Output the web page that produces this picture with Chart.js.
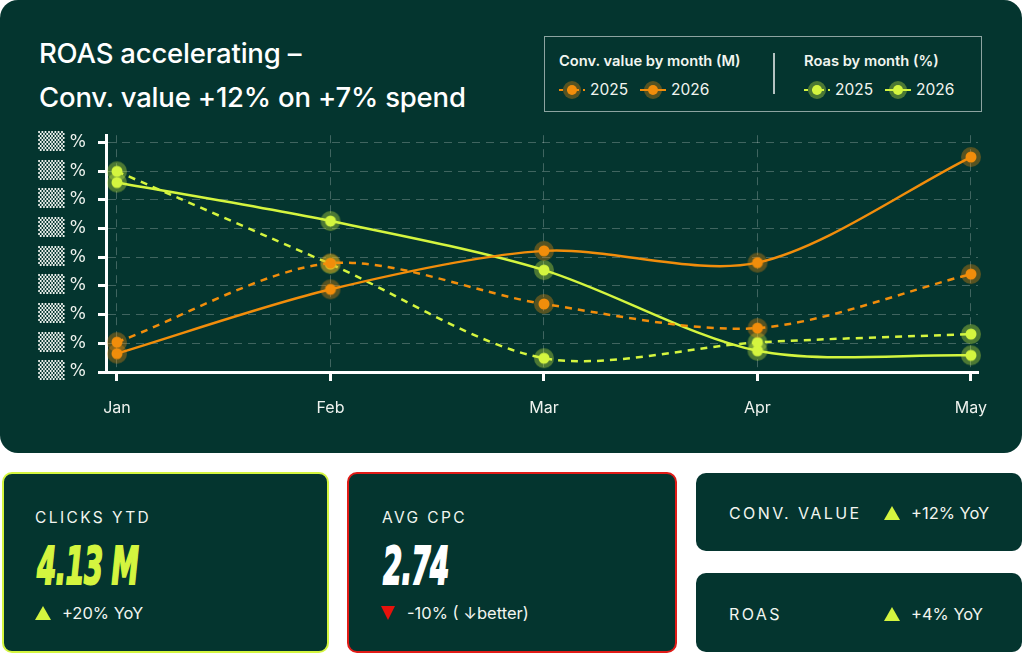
<!DOCTYPE html>
<html>
<head>
<meta charset="utf-8">
<script src="https://cdn.jsdelivr.net/npm/chart.js@4"></script>
<style>
  body { margin: 0; width: 1024px; height: 654px; background: #ffffff; position: relative; overflow: hidden; font-family: Inter, "Open Sans", sans-serif; color: #f2f5f0; }
  .panel { position: absolute; left: 0; top: 0; width: 1022px; height: 453px; background: #04352f; border-radius: 18px; }
  .title { position: absolute; left: 39px; font-size: 27.5px; font-weight: 500; color: #ffffff; white-space: nowrap; letter-spacing: -0.2px; }
  .chartbox { position: absolute; left: 0; top: 113px; width: 1022px; height: 327px; }
  .legend { position: absolute; left: 544px; top: 36px; width: 436px; height: 74px; border: 1px solid rgba(255,255,255,0.55); }
  .lg-group { position: absolute; top: 0; }
  .lg-head { position: absolute; top: 15px; font-size: 14.7px; font-weight: 600; white-space: nowrap; color: #f2f5f0; }
  .lg-item { position: absolute; top: 42px; height: 22px; white-space: nowrap; font-size: 15.5px; line-height: 22px; }
  .sym { position: absolute; top: 10px; left: 0; width: 26px; height: 2px; }
  .sym.dash { background: repeating-linear-gradient(90deg, var(--c) 0 4px, transparent 4px 8px); }
  .sym.solid { background: var(--c); }
  .dot { position: absolute; left: 8px; top: -4px; width: 10px; height: 10px; border-radius: 50%; background: var(--c); box-shadow: 0 0 0 4px var(--h); }
  .lg-text { position: absolute; left: 31px; top: 0; }
  .divider { position: absolute; left: 228px; top: 16px; width: 2px; height: 41px; background: rgba(255,255,255,0.7); }
  .card { position: absolute; background: #04352f; border-radius: 10px; box-sizing: border-box; }
  .klabel { position: absolute; font-size: 15.5px; letter-spacing: 2.4px; white-space: nowrap; color: #f2f5f0; }
  .kvalue { position: absolute; font-family: "Liberation Sans Narrow", "DejaVu Sans Condensed", sans-serif; font-weight: 700; font-style: italic; font-size: 51px; line-height: 51px; white-space: nowrap; transform: scaleX(0.6); transform-origin: left top; letter-spacing: -1px; -webkit-text-stroke: 2px currentColor; }
  .kchange { position: absolute; font-size: 16.5px; white-space: nowrap; color: #f2f5f0; }
  .tri-up { position: absolute; width: 0; height: 0; border-left: 8px solid transparent; border-right: 8px solid transparent; border-bottom: 14px solid #d4f53f; }
  .tri-down { position: absolute; width: 0; height: 0; border-left: 7px solid transparent; border-right: 7px solid transparent; border-top: 14px solid #e8120c; }
</style>
</head>
<body>
<div class="panel">
  <div class="title" style="top: 36px;">ROAS accelerating –</div>
  <div class="title" style="top: 80px;">Conv. value +12% on +7% spend</div>
  <div class="legend">
    <div class="lg-group" style="left: 14px;">
      <div class="lg-head">Conv. value by month (M)</div>
      <div class="lg-item" style="left: 0;"><div class="sym dash" style="--c:#f18d0b;"><div class="dot" style="--c:#f18d0b; --h:rgba(241,141,11,0.35);"></div></div><span class="lg-text">2025</span></div>
      <div class="lg-item" style="left: 81px;"><div class="sym solid" style="--c:#f18d0b;"><div class="dot" style="--c:#f18d0b; --h:rgba(241,141,11,0.35);"></div></div><span class="lg-text">2026</span></div>
    </div>
    <div class="divider"></div>
    <div class="lg-group" style="left: 259px;">
      <div class="lg-head">Roas by month (%)</div>
      <div class="lg-item" style="left: 0;"><div class="sym dash" style="--c:#d4f53f;"><div class="dot" style="--c:#d4f53f; --h:rgba(212,245,63,0.35);"></div></div><span class="lg-text">2025</span></div>
      <div class="lg-item" style="left: 81px;"><div class="sym solid" style="--c:#d4f53f;"><div class="dot" style="--c:#d4f53f; --h:rgba(212,245,63,0.35);"></div></div><span class="lg-text">2026</span></div>
    </div>
  </div>
  <div class="chartbox"><canvas id="trendChart"></canvas></div>
</div>

<div class="card" style="left: 2px; top: 472px; width: 327px; height: 181px; border: 2px solid #d4f53f;">
  <div class="klabel" style="left: 31px; top: 34px;">CLICKS YTD</div>
  <div class="kvalue" style="left: 33px; top: 67px; color: #d4f53f;">4.13 M</div>
  <div class="tri-up" style="left: 31px; top: 132px;"></div>
  <div class="kchange" style="left: 58px; top: 129px;">+20% YoY</div>
</div>
<div class="card" style="left: 347px; top: 472px; width: 330px; height: 181px; border: 2px solid #e11b17;">
  <div class="klabel" style="left: 33px; top: 34px;">AVG CPC</div>
  <div class="kvalue" style="left: 34px; top: 67px; color: #ffffff;">2.74</div>
  <div class="tri-down" style="left: 32px; top: 132px;"></div>
  <div class="kchange" style="left: 58px; top: 129px;">-10% ( ↓better)</div>
</div>
<div class="card" style="left: 696px; top: 473px; width: 326px; height: 78px;">
  <div class="klabel" style="left: 33px; top: 30px; font-size: 16px; letter-spacing: 2.4px;">CONV. VALUE</div>
  <div class="tri-up" style="left: 188px; top: 33px;"></div>
  <div class="kchange" style="left: 215px; top: 30px;">+12% YoY</div>
</div>
<div class="card" style="left: 696px; top: 573px; width: 326px; height: 79px;">
  <div class="klabel" style="left: 33px; top: 31px; font-size: 16px; letter-spacing: 2.4px;">ROAS</div>
  <div class="tri-up" style="left: 188px; top: 34px;"></div>
  <div class="kchange" style="left: 215px; top: 31px;">+4% YoY</div>
</div>

<script>
// values, y axis labels are masked in the source
const months = ['Jan', 'Feb', 'Mar', 'Apr', 'May'];
const convValue2025 = [10.4, 37.9, 23.7, 15.3, 34.1];
const convValue2026 = [6.4, 28.8, 42.2, 38.1, 74.9];
const roas2025 = [69.9, 37.6, 4.8, 10.3, 13.2];
const roas2026 = [66.0, 52.6, 35.5, 7.4, 5.8];
const yTickLabel = '▒▒ %';

const ORANGE = '#f18d0b';
const LIME = '#d4f53f';

function makeDot(color, halo) {
  let c = document.createElement('canvas');
  c.width = 22;
  c.height = 22;
  let g = c.getContext('2d');
  g.fillStyle = halo;
  g.beginPath();
  g.arc(11, 11, 10, 0, Math.PI * 2);
  g.fill();
  g.fillStyle = color;
  g.beginPath();
  g.arc(11, 11, 5.5, 0, Math.PI * 2);
  g.fill();
  return c;
}

function toPoints(values) {
  return values.map(function (v, i) { return { x: i, y: v }; });
}

function makeDataset(label, values, color, halo, dashed) {
  return {
    label: label,
    data: toPoints(values),
    borderColor: color,
    borderWidth: 2.5,
    borderDash: dashed ? [7, 6] : [],
    tension: 0.3,
    fill: false,
    pointStyle: makeDot(color, halo),
    pointRadius: 10,
    pointHoverRadius: 10,
    clip: false
  };
}

let config = {
  type: 'line',
  data: {
    datasets: [
      makeDataset('Conv. value 2025', convValue2025, ORANGE, 'rgba(241,141,11,0.35)', true),
      makeDataset('Conv. value 2026', convValue2026, ORANGE, 'rgba(241,141,11,0.35)', false),
      makeDataset('Roas 2025', roas2025, LIME, 'rgba(212,245,63,0.35)', true),
      makeDataset('Roas 2026', roas2026, LIME, 'rgba(212,245,63,0.35)', false)
    ]
  },
  options: {
    responsive: true,
    maintainAspectRatio: false,
    animation: false,
    layout: { padding: { left: 0, right: 44, top: 14, bottom: 0 } },
    plugins: { legend: { display: false }, tooltip: { enabled: false } },
    scales: {
      x: {
        type: 'linear',
        min: -0.0515,
        max: 4.033,
        afterFit: function (scale) { scale.height = 68; },
        ticks: {
          stepSize: 1,
          includeBounds: false,
          padding: 18,
          color: '#eef2ee',
          font: { family: 'Inter', size: 16 },
          callback: function (value) { return months[value]; }
        },
        grid: {
          color: 'rgba(255,255,255,0.24)',
          lineWidth: 1,
          tickLength: 9,
          tickColor: '#ffffff',
          tickWidth: 3,
          tickBorderDash: []
        },
        border: { display: true, color: '#ffffff', width: 3, dash: [8, 6] }
      },
      y: {
        min: 0,
        max: 82.5,
        afterFit: function (scale) { scale.width = 106; },
        ticks: {
          stepSize: 10,
          includeBounds: false,
          padding: 12,
          color: '#eef2ee',
          font: { family: 'DejaVu Sans', size: 17 },
          callback: function () { return yTickLabel; }
        },
        grid: {
          color: 'rgba(255,255,255,0.24)',
          lineWidth: 1,
          tickLength: 8,
          tickColor: '#ffffff',
          tickWidth: 3,
          tickBorderDash: []
        },
        border: { display: true, color: '#ffffff', width: 3, dash: [8, 6] }
      }
    }
  }
};

let trendChart = new Chart(document.getElementById('trendChart'), config);
</script>
</body>
</html>
